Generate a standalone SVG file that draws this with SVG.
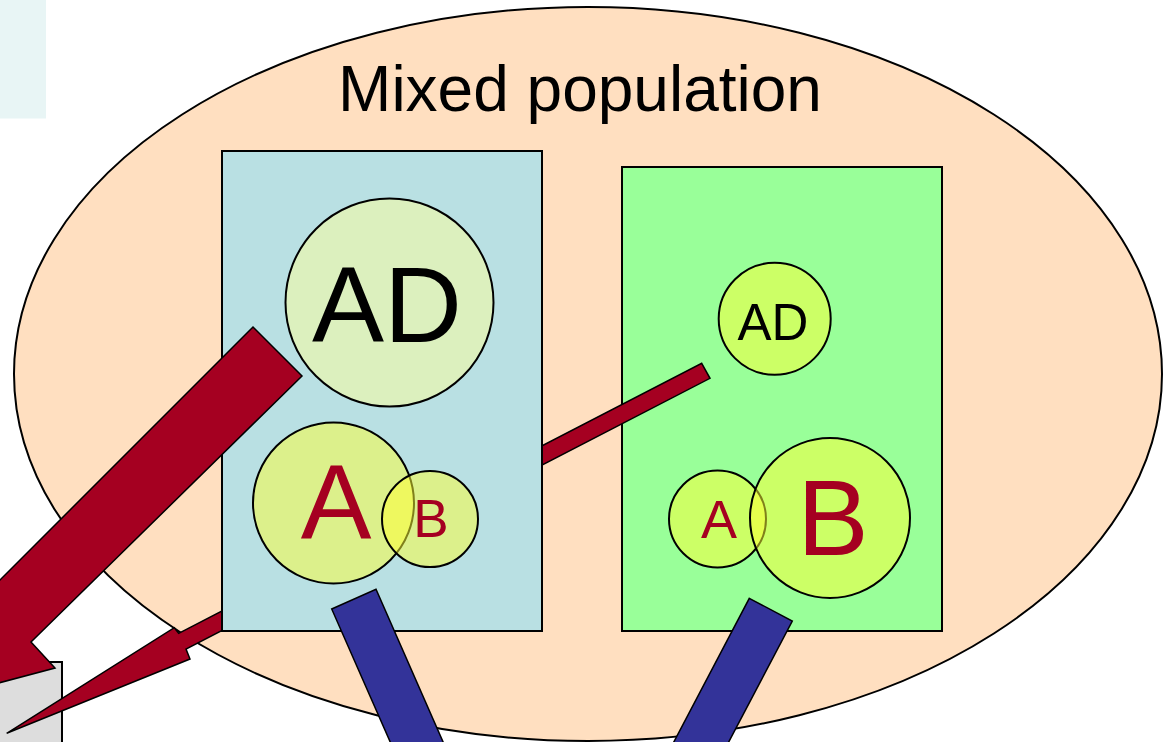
<svg xmlns="http://www.w3.org/2000/svg" width="1163" height="742" viewBox="0 0 1163 742">
<style>
.ln{stroke:#000;stroke-width:2}
.c{stroke:#000;stroke-width:2}
.yc{fill:#ffff33;fill-opacity:0.5}
.pc{fill:#ffff99;fill-opacity:0.5}
.red{fill:#a50021;stroke:#000;stroke-width:1.5;stroke-linejoin:miter}
.blue{fill:#333399;stroke:#000;stroke-width:1.5}
text{font-family:"Liberation Sans",Arial,sans-serif;text-anchor:middle}
.k{fill:#000}
.r{fill:#a50021}
</style>
<rect id="corner-panel" x="-2" y="-2" width="48" height="120.5" fill="#e8f5f5"/>
<g id="gray-box"><rect x="-10" y="662" width="72" height="100" fill="#dddddd" class="ln"/></g>
<g id="mixed-population">
<ellipse cx="588" cy="374" rx="574" ry="367" fill="#ffdfc0" class="ln"/>
<text x="580" y="111" font-size="64" class="k">Mixed population</text>
</g>
<g id="group-green"><rect x="622" y="167" width="320" height="464" fill="#99ff99" class="ln"/></g>
<g id="connectors-under">
<polygon class="red" points="701.7,363.3 710,378.3 186,649 190,659 6.7,733.3 174.3,627.7 178.7,633.3"/>
</g>
<g id="group-blue"><rect x="222" y="151" width="320" height="480" fill="#b9e0e3" class="ln"/></g>
<g id="left-AD"><circle cx="389.5" cy="302.5" r="104" class="pc c"/><text x="387" y="342" font-size="108" class="k">AD</text></g>
<g id="left-A"><circle cx="333.5" cy="503" r="80.5" class="yc c"/><text x="336" y="538" font-size="106" class="r">A</text></g>
<g id="left-B"><circle cx="430" cy="519" r="48" class="yc c"/><text x="431" y="537" font-size="53" class="r">B</text></g>
<g id="right-AD"><circle cx="774.7" cy="318.8" r="56" class="yc c"/><text x="773" y="340" font-size="51" class="k">AD</text></g>
<g id="right-A"><circle cx="717.5" cy="519" r="48.5" class="yc c"/><text x="719" y="538" font-size="54" class="r">A</text></g>
<g id="right-B"><circle cx="830" cy="518" r="80" class="yc c"/><text x="833" y="555" font-size="107" class="r">B</text></g>
<g id="connectors">
<polygon class="red" points="253,327 302,376 31,642 55,668 -73,702 -39,574 -16,596"/>
<polygon class="blue" points="331.7,609 376,589.3 469.3,801.6 425,821"/>
<polygon class="blue" points="749.3,598.3 792.3,621 679.3,836 636.3,813.4"/>
</g>
</svg>
